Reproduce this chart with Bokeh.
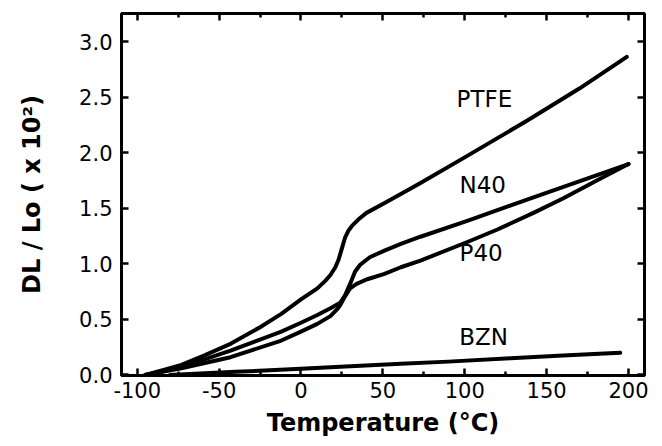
from bokeh.plotting import figure
from bokeh.models import Range1d, FixedTicker, LinearAxis
from bokeh.core.properties import value
from bokeh.embed import file_html
from bokeh.resources import INLINE

# ---- data ----
ptfe_t = [-95, -85, -73, -60, -43, -25, -12, 0, 10, 15, 18, 21, 23, 25, 27, 29, 31, 35, 40, 50, 61, 73, 100, 138, 170, 199]
ptfe_v = [0.0, 0.04, 0.09, 0.17, 0.28, 0.43, 0.55, 0.68, 0.78, 0.85, 0.90, 0.97, 1.04, 1.14, 1.24, 1.30, 1.34, 1.40, 1.46, 1.54, 1.63, 1.73, 1.96, 2.29, 2.58, 2.865]

n40_t = [-95, -73, -43, -12, 0, 10, 18, 24, 27, 30, 33, 36, 42, 51, 61, 73, 102, 142, 200]
n40_v = [0.0, 0.07, 0.22, 0.39, 0.47, 0.54, 0.60, 0.65, 0.72, 0.82, 0.93, 0.99, 1.06, 1.12, 1.18, 1.245, 1.39, 1.60, 1.90]

p40_t = [-95, -73, -43, -12, 0, 10, 18, 22, 24, 27, 30, 34, 40, 51, 61, 73, 102, 120, 142, 160, 183, 200]
p40_v = [0.0, 0.06, 0.16, 0.31, 0.39, 0.46, 0.53, 0.59, 0.63, 0.71, 0.78, 0.82, 0.86, 0.91, 0.97, 1.03, 1.20, 1.31, 1.46, 1.59, 1.77, 1.90]

bzn_t = [-80, -40, 0, 18, 61, 90, 128, 160, 195]
bzn_v = [0.0, 0.028, 0.055, 0.07, 0.10, 0.12, 0.15, 0.175, 0.20]

label_text = ["PTFE", "N40", "P40", "BZN"]
label_x = [112, 111, 110, 111.5]
label_y = [2.49, 1.71, 1.095, 0.34]

x_ticks = [-100, -50, 0, 50, 100, 150, 200]
x_tick_labels = ["-100", "-50", "0", "50", "100", "150", "200"]
x_minor = [-75, -25, 25, 75, 125, 175]
y_ticks = [0.0, 0.5, 1.0, 1.5, 2.0, 2.5, 3.0]
y_tick_labels = ["0.0", "0.5", "1.0", "1.5", "2.0", "2.5", "3.0"]

x_title = "Temperature (°C)"
y_title = "DL / Lo ( x 10²)"

# ---- figure ----
p = figure(width=662, height=446, output_backend="svg", toolbar_location=None,
           x_range=Range1d(-109.6, 209.8), y_range=Range1d(-0.005, 3.256),
           min_border_left=121, min_border_right=18, min_border_top=13, min_border_bottom=71)
p.background_fill_color = "white"
p.border_fill_color = "white"
p.xgrid.visible = False
p.ygrid.visible = False
p.outline_line_color = "black"
p.outline_line_width = 3

tick_font = "DejaVu Sans"
title_font = "DejaVu Sans"


def style_axis(ax, labels=True):
    ax.axis_line_color = None
    ax.major_tick_in = 7
    ax.major_tick_out = 0
    ax.minor_tick_in = 4
    ax.minor_tick_out = 0
    ax.major_tick_line_width = 2.5
    ax.minor_tick_line_width = 2.5
    ax.major_tick_line_color = "black"
    ax.minor_tick_line_color = "black"
    if labels:
        ax.major_label_text_font = tick_font
        ax.major_label_text_font_size = "21px"
        ax.major_label_text_color = "black"
        ax.axis_label_text_font = title_font
        ax.axis_label_text_font_style = "bold"
        ax.axis_label_text_font_size = "24px"
        ax.axis_label_text_color = "black"
    else:
        ax.major_label_text_font_size = "1px"
        ax.major_label_text_color = None
        ax.major_label_standoff = 0


xa = p.xaxis[0]
xa.ticker = FixedTicker(ticks=x_ticks, minor_ticks=x_minor)
style_axis(xa)
xa.major_label_overrides = dict(zip(x_ticks, x_tick_labels))
xa.major_label_standoff = 6
xa.axis_label = x_title
xa.axis_label_standoff = 8

ya = p.yaxis[0]
ya.ticker = FixedTicker(ticks=y_ticks, minor_ticks=[])
style_axis(ya)
ya.major_label_overrides = dict(zip(y_ticks, y_tick_labels))
ya.major_label_standoff = 9
ya.axis_label = y_title
ya.axis_label_standoff = 30

top = LinearAxis(ticker=FixedTicker(ticks=x_ticks, minor_ticks=x_minor))
style_axis(top, labels=False)
p.add_layout(top, "above")

right = LinearAxis(ticker=FixedTicker(ticks=y_ticks, minor_ticks=[]))
style_axis(right, labels=False)
p.add_layout(right, "right")

lw = 4
for t, v in [(ptfe_t, ptfe_v), (n40_t, n40_v), (p40_t, p40_v), (bzn_t, bzn_v)]:
    p.line(t, v, line_color="black", line_width=lw, line_join="round", line_cap="round")

p.text(x=label_x, y=label_y, text=label_text, text_font=value("DejaVu Sans"),
       text_font_size="23px", text_align="center", text_baseline="middle", text_color="black")

open("out.html", "w").write(file_html(p, INLINE))
